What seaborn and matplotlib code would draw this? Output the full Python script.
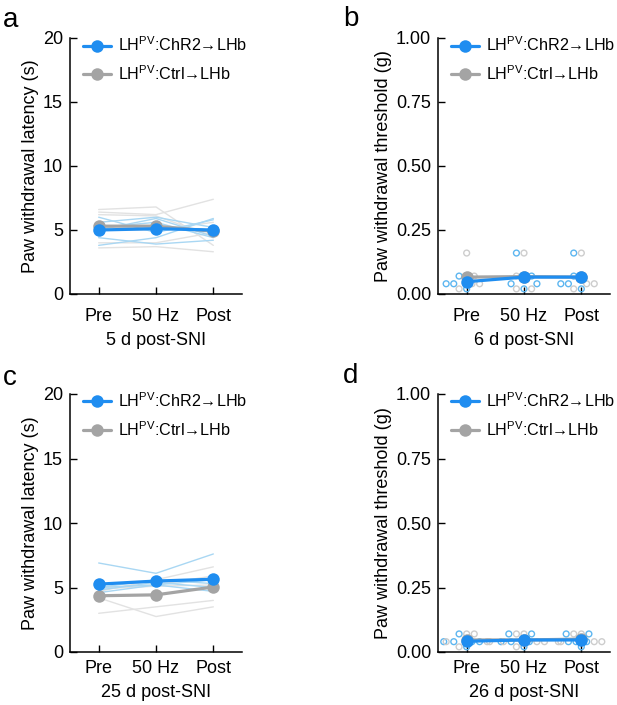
import matplotlib
matplotlib.use("Agg")
import matplotlib.pyplot as plt
from matplotlib.lines import Line2D
import pandas as pd
import seaborn as sns

# categories
TIMES = ["Pre", "50 Hz", "Post"]
GROUPS = ["ChR2", "Ctrl"]
GROUP_LABELS = {
    "ChR2": r"LH$^{\mathrm{PV}}$:ChR2→LHb",
    "Ctrl": r"LH$^{\mathrm{PV}}$:Ctrl→LHb",
}

# per-mouse values, one row per mouse: [Pre, 50 Hz, Post]
# a: paw withdrawal latency (s), 5 d post-SNI
a_chr2 = [[6.0, 4.8, 5.8], [5.6, 6.0, 5.2], [5.2, 5.6, 4.4],
          [4.4, 3.9, 4.2], [3.8, 4.4, 5.9], [5.0, 5.9, 4.5]]
a_ctrl = [[6.6, 6.8, 3.8], [6.4, 6.2, 7.4], [5.0, 5.0, 5.6],
          [4.0, 4.0, 4.8], [3.6, 3.7, 3.3], [6.2, 6.1, 4.5]]

# b: paw withdrawal threshold (g), 6 d post-SNI
b_chr2 = [[0.07, 0.16, 0.16], [0.07, 0.07, 0.07], [0.04, 0.04, 0.04],
          [0.04, 0.04, 0.04], [0.02, 0.02, 0.02]]
b_ctrl = [[0.16, 0.16, 0.16], [0.07, 0.07, 0.07], [0.04, 0.07, 0.04],
          [0.04, 0.02, 0.04], [0.02, 0.02, 0.02]]

# c: paw withdrawal latency (s), 25 d post-SNI
c_chr2 = [[6.9, 6.1, 7.6], [5.0, 5.6, 5.3], [4.8, 5.4, 5.0],
          [4.6, 5.2, 4.7], [5.0, 5.2, 5.6]]
c_ctrl = [[3.0, 3.5, 4.0], [4.2, 2.75, 3.5], [4.7, 5.6, 6.6],
          [5.0, 5.2, 5.9], [4.9, 5.1, 5.2]]

# d: paw withdrawal threshold (g), 26 d post-SNI
d_chr2 = [[0.07, 0.07, 0.07], [0.04, 0.07, 0.07], [0.04, 0.04, 0.04],
          [0.04, 0.04, 0.04], [0.04, 0.04, 0.04], [0.02, 0.02, 0.02]]
d_ctrl = [[0.07, 0.07, 0.07], [0.07, 0.07, 0.07], [0.04, 0.04, 0.04],
          [0.04, 0.04, 0.04], [0.04, 0.04, 0.04], [0.02, 0.02, 0.04]]

BLUE = "#1f8df0"
GRAY = "#a4a4a4"
LIGHT_BLUE = "#a9d7f3"
LIGHT_GRAY = "#e2e2e2"
DOT_BLUE = "#5db6f0"
DOT_GRAY = "#cdcdcd"
FS = 13
LEG_FS = 11.6


def to_long(chr2, ctrl):
    rows = []
    for group, mice in (("ChR2", chr2), ("Ctrl", ctrl)):
        for m, vals in enumerate(mice):
            for t, v in zip(TIMES, vals):
                rows.append({"group": group, "mouse": f"{group}{m}", "time": t, "value": v})
    return pd.DataFrame(rows)


def draw_means(ax, df):
    # gray first so the blue group sits on top
    for group, color in (("Ctrl", GRAY), ("ChR2", BLUE)):
        sns.pointplot(data=df[df.group == group], x="time", y="value", order=TIMES,
                      color=color, errorbar=None, markersize=9, linewidth=2.3,
                      markeredgewidth=0, zorder=5, ax=ax)


def finish(ax, ticks, ylabel, xlabel, ylim, xpad):
    ax.set_xlim(-0.5, 2.5)
    ax.set_ylim(*ylim)
    ax.set_yticks(ticks)
    if ylim[1] == 1.0:
        ax.set_yticklabels([f"{t:.2f}" for t in ticks])
    ax.set_ylabel(ylabel, fontsize=FS, labelpad=3)
    ax.set_xlabel(xlabel, fontsize=FS, labelpad=5)
    ax.tick_params(direction="in", length=5, width=1, labelsize=FS, colors="black")
    ax.tick_params(axis="y", pad=5)
    ax.tick_params(axis="x", pad=xpad)
    sns.despine(ax=ax)
    for s in ("left", "bottom"):
        ax.spines[s].set_linewidth(1.1)
        ax.spines[s].set_color("black")
    handles = [Line2D([], [], color=BLUE, lw=2.3, marker="o", ms=9, mew=0),
               Line2D([], [], color=GRAY, lw=2.3, marker="o", ms=9, mew=0)]
    ax.legend(handles, [GROUP_LABELS[g] for g in GROUPS], loc="upper left",
              bbox_to_anchor=(0.075, 1.01), frameon=False, fontsize=LEG_FS,
              handlelength=1.75, handletextpad=0.45, labelspacing=0.62,
              borderaxespad=0, borderpad=0)


def latency_panel(ax, chr2, ctrl, xlabel, xpad):
    df = to_long(chr2, ctrl)
    for group, color in (("Ctrl", LIGHT_GRAY), ("ChR2", LIGHT_BLUE)):
        sns.lineplot(data=df[df.group == group], x="time", y="value", units="mouse",
                     estimator=None, color=color, lw=1, sort=False, legend=False, ax=ax)
    draw_means(ax, df)
    finish(ax, [0, 5, 10, 15, 20], "Paw withdrawal latency (s)", xlabel, (0, 20), xpad)


def threshold_panel(ax, chr2, ctrl, xlabel, xpad):
    df = to_long(chr2, ctrl)
    n_before = len(ax.collections)
    sns.swarmplot(data=df, x="time", y="value", hue="group", order=TIMES,
                  hue_order=GROUPS, palette={"ChR2": DOT_BLUE, "Ctrl": DOT_GRAY},
                  size=4.2, legend=False, ax=ax)
    for coll in ax.collections[n_before:]:
        fc = coll.get_facecolors().copy()
        coll.set_edgecolors(fc)
        coll.set_facecolors("none")
        coll.set_linewidth(1.0)
        coll.set_zorder(1)
    draw_means(ax, df)
    finish(ax, [0, 0.25, 0.5, 0.75, 1.0], "Paw withdrawal threshold (g)", xlabel, (0, 1.0), xpad)


sns.set_style("ticks")
plt.rcParams["font.family"] = ["Liberation Sans", "DejaVu Sans"]
plt.rcParams["mathtext.fontset"] = "custom"
plt.rcParams["mathtext.rm"] = "Liberation Sans"
plt.rcParams["text.color"] = "black"
plt.rcParams["axes.labelcolor"] = "black"

fig = plt.figure(figsize=(6.17, 7.05), dpi=100)
W, H = 617, 705
ax_a = fig.add_axes([70 / W, 1 - 294 / H, 172 / W, 256 / H])
ax_b = fig.add_axes([438 / W, 1 - 294 / H, 172 / W, 256 / H])
ax_c = fig.add_axes([70 / W, 1 - 652 / H, 172 / W, 258 / H])
ax_d = fig.add_axes([438 / W, 1 - 652 / H, 172 / W, 258 / H])

latency_panel(ax_a, a_chr2, a_ctrl, "5 d post-SNI", 10)
threshold_panel(ax_b, b_chr2, b_ctrl, "6 d post-SNI", 10)
latency_panel(ax_c, c_chr2, c_ctrl, "25 d post-SNI", 6)
threshold_panel(ax_d, d_chr2, d_ctrl, "26 d post-SNI", 6)

for letter, x, y in (("a", 3, 27), ("b", 343, 26), ("c", 3, 385), ("d", 343, 383)):
    fig.text(x / W, 1 - y / H, letter, fontsize=20, va="baseline", ha="left")

fig.savefig("out.png", dpi=100)
